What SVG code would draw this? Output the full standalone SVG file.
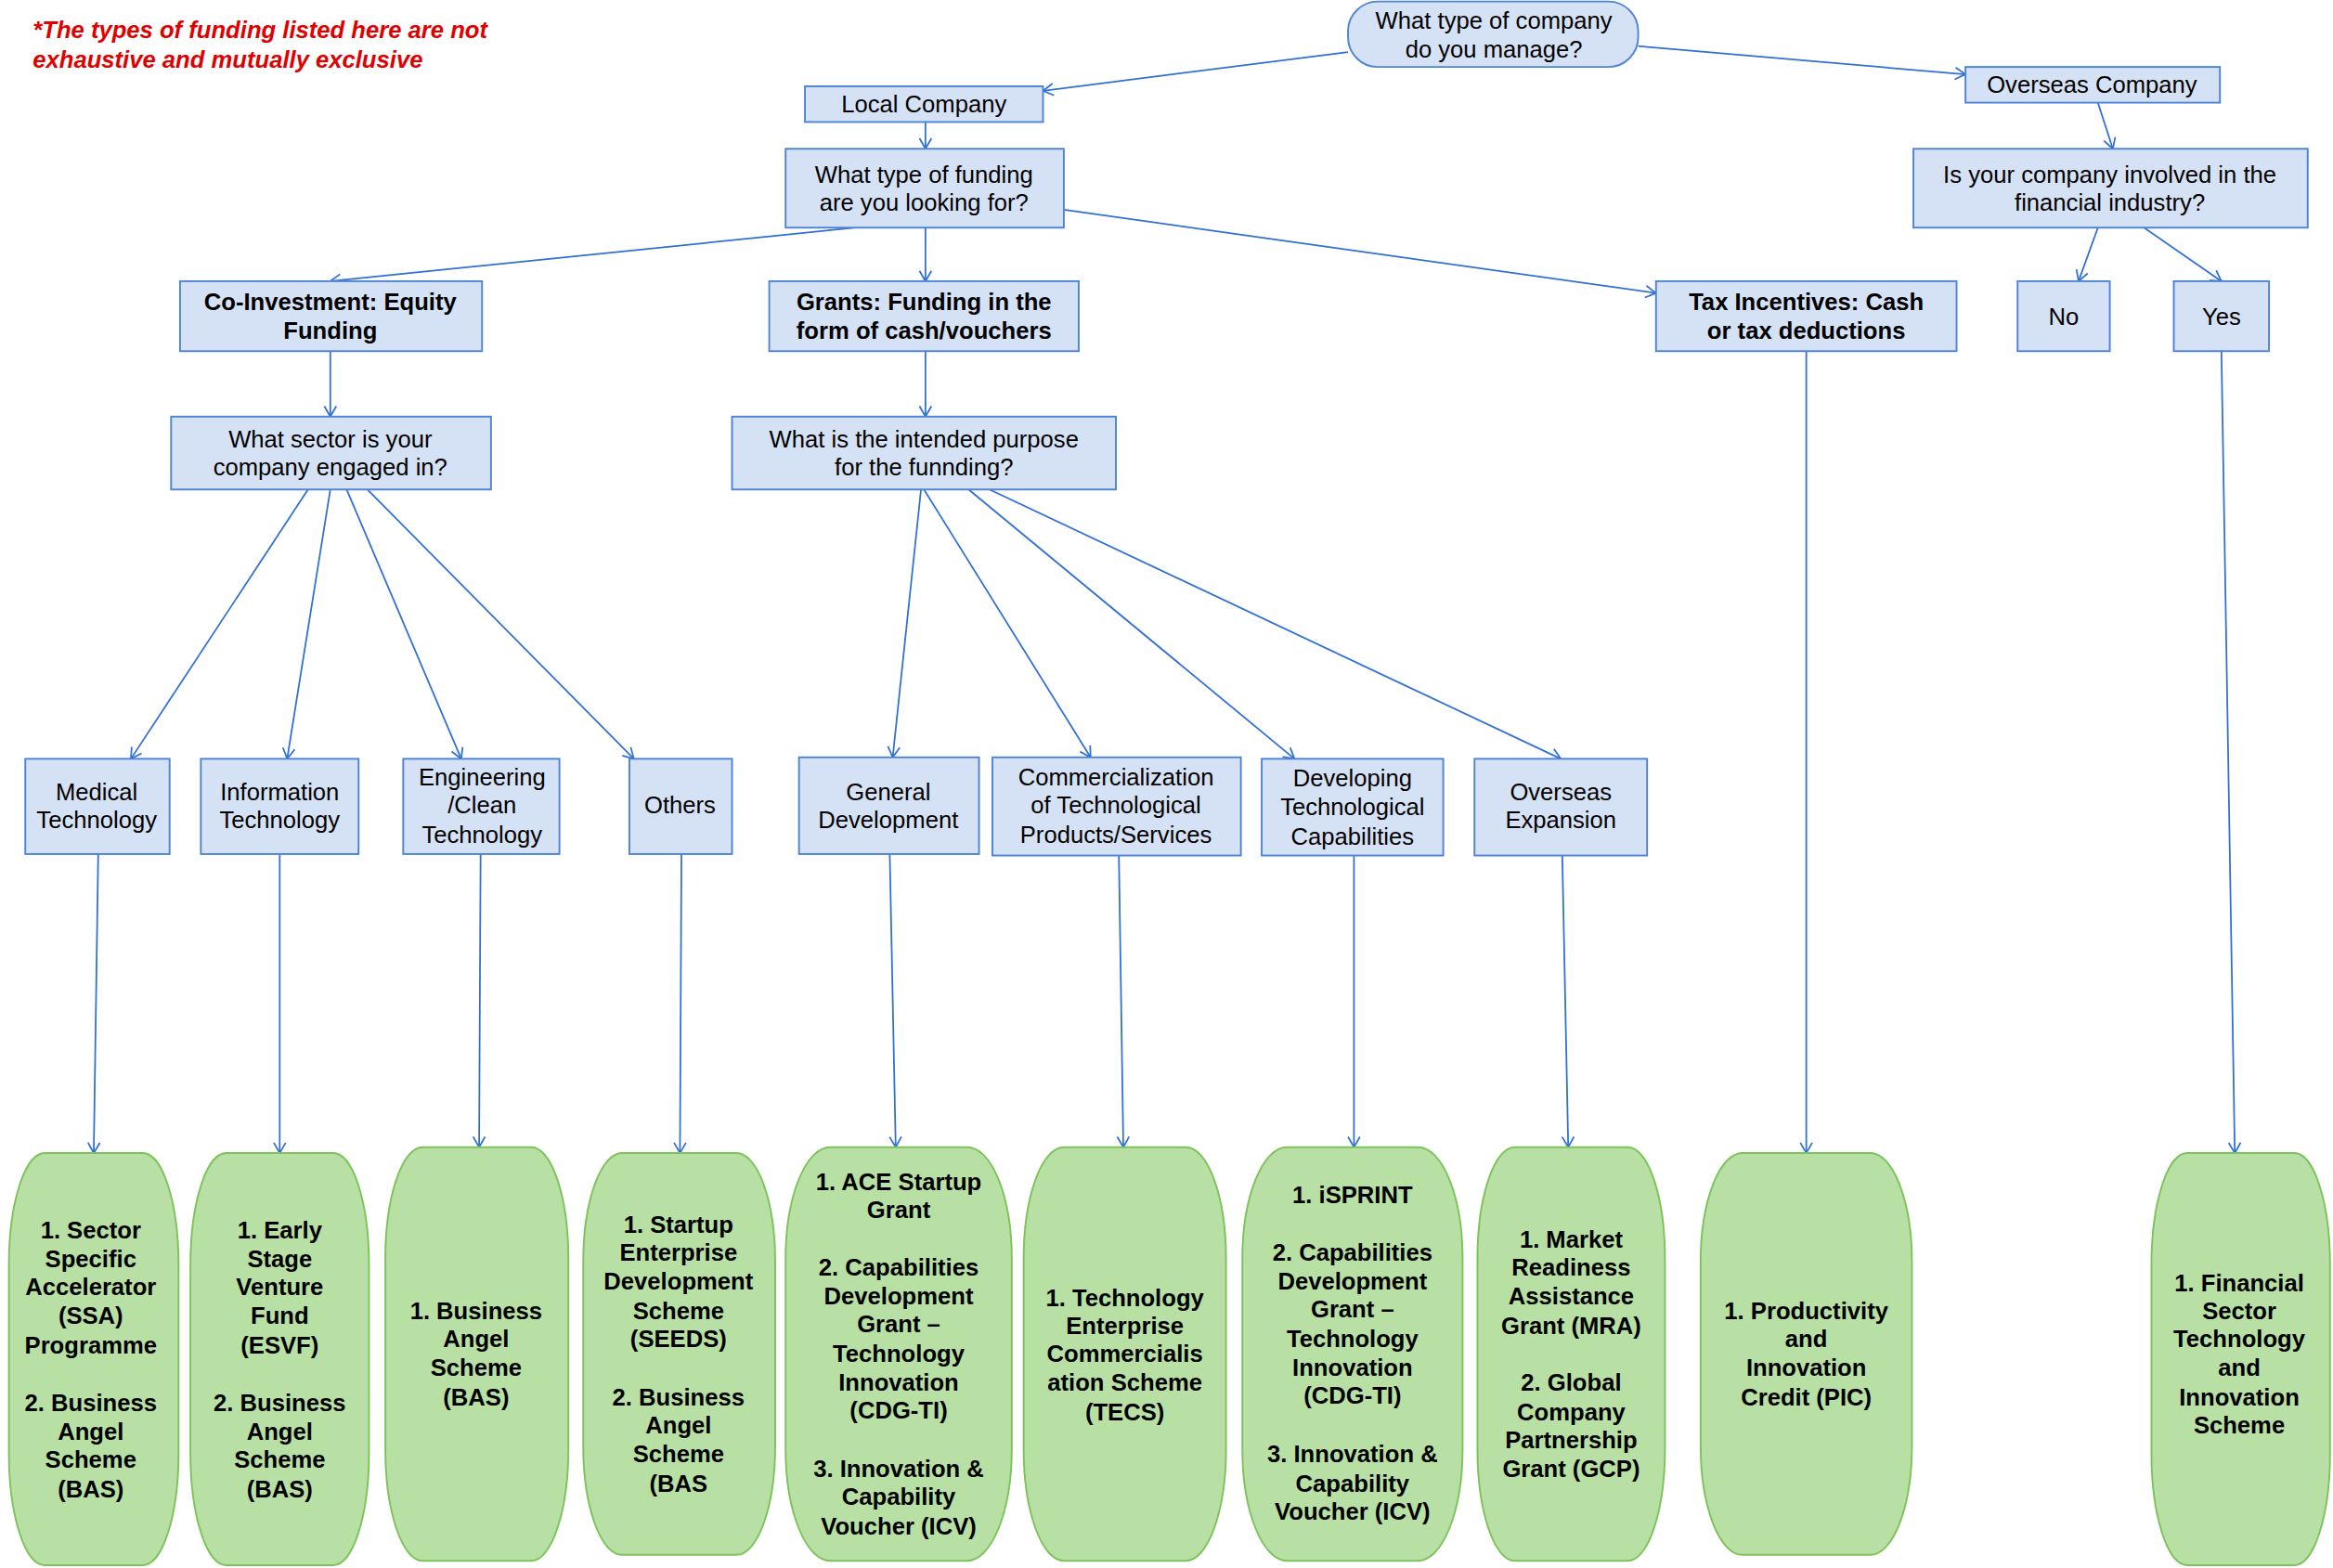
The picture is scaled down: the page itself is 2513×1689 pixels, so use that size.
<svg xmlns="http://www.w3.org/2000/svg" width="2513" height="1689" viewBox="0 0 2513 1689">
<style>
.b{fill:#d5e2f5;stroke:#4f83d6;stroke-width:1.2}
.g{fill:#b8e0a4;stroke:#7dc35b;stroke-width:1.2}
text{font-family:"Liberation Sans",Arial,sans-serif;font-size:16px;fill:#000;text-anchor:middle;dominant-baseline:central}
.bd{font-weight:bold}
.n{fill:#e00000;font-weight:bold;font-style:italic;text-anchor:start}
#conn line{stroke:#2f6fd6;stroke-width:1.1;marker-end:url(#ah)}
</style>
<defs>
<marker id="ah" markerWidth="10" markerHeight="10" refX="8" refY="5" orient="auto" markerUnits="userSpaceOnUse">
<path d="M1,1 L8,5 L1,9" fill="none" stroke="#2f6fd6" stroke-width="1.1"/>
</marker>
</defs>
<rect width="2513" height="1689" fill="#fff"/>
<g transform="scale(1.60268)">
<g id="note"><text class="n" x="22" y="20">*The  types of funding listed here are not</text><text class="n" x="22" y="40">exhaustive and mutually exclusive</text></g>

<g id="conn">
<line x1="906" y1="35" x2="701" y2="61"/>
<line x1="1101" y1="31" x2="1321" y2="50"/>
<line x1="622" y1="82" x2="622" y2="100"/>
<line x1="1410" y1="69" x2="1420" y2="100"/>
<line x1="575" y1="153" x2="222" y2="189"/>
<line x1="622" y1="153" x2="622" y2="189"/>
<line x1="715" y1="141" x2="1113" y2="197"/>
<line x1="1410" y1="153" x2="1397" y2="189"/>
<line x1="1441" y1="153" x2="1493" y2="189"/>
<line x1="222" y1="236" x2="222" y2="280"/>
<line x1="622" y1="236" x2="622" y2="280"/>
<line x1="207" y1="329" x2="88" y2="510"/>
<line x1="222" y1="329" x2="193" y2="510"/>
<line x1="233" y1="329" x2="310" y2="510"/>
<line x1="247" y1="329" x2="426" y2="510"/>
<line x1="619" y1="329" x2="600" y2="509"/>
<line x1="621" y1="329" x2="733" y2="509"/>
<line x1="651" y1="329" x2="870" y2="510"/>
<line x1="665" y1="329" x2="1049" y2="510"/>
<line x1="66" y1="574" x2="63" y2="775"/>
<line x1="188" y1="574" x2="188" y2="775"/>
<line x1="323" y1="574" x2="322" y2="771"/>
<line x1="458" y1="574" x2="457" y2="775"/>
<line x1="598" y1="574" x2="602" y2="771"/>
<line x1="752" y1="575" x2="755" y2="771"/>
<line x1="910" y1="575" x2="910" y2="771"/>
<line x1="1050" y1="575" x2="1054" y2="771"/>
<line x1="1214" y1="236" x2="1214" y2="775"/>
<line x1="1493" y1="236" x2="1502" y2="775"/>
</g>

<g id="root"><rect class="b" x="906" y="1" width="195" height="44" rx="20"/><text x="1004" y="14">What type of company</text><text x="1004" y="33">do you manage?</text></g>
<g id="local"><rect class="b" x="541" y="58" width="160" height="24"/><text x="621" y="70">Local Company</text></g>
<g id="overseas"><rect class="b" x="1321" y="45" width="171" height="24"/><text x="1406" y="57">Overseas Company</text></g>
<g id="fundtype"><rect class="b" x="528" y="100" width="187" height="53"/><text x="621" y="117">What type of funding</text><text x="621" y="136">are you looking for?</text></g>
<g id="financial"><rect class="b" x="1286" y="100" width="265" height="53"/><text x="1418" y="117">Is your company involved in the</text><text x="1418" y="136">financial industry?</text></g>
<g id="coinv"><rect class="b" x="121" y="189" width="203" height="47"/><text class="bd" x="222" y="203">Co-Investment: Equity</text><text class="bd" x="222" y="222">Funding</text></g>
<g id="grants"><rect class="b" x="517" y="189" width="208" height="47"/><text class="bd" x="621" y="203">Grants: Funding in the</text><text class="bd" x="621" y="222">form of cash/vouchers</text></g>
<g id="tax"><rect class="b" x="1113" y="189" width="202" height="47"/><text class="bd" x="1214" y="203">Tax Incentives: Cash</text><text class="bd" x="1214" y="222">or tax deductions</text></g>
<g id="no"><rect class="b" x="1356" y="189" width="62" height="47"/><text x="1387" y="213">No</text></g>
<g id="yes"><rect class="b" x="1461" y="189" width="64" height="47"/><text x="1493" y="213">Yes</text></g>
<g id="sector"><rect class="b" x="115" y="280" width="215" height="49"/><text x="222" y="295">What sector is your</text><text x="222" y="314">company engaged in?</text></g>
<g id="purpose"><rect class="b" x="492" y="280" width="258" height="49"/><text x="621" y="295">What is the intended purpose</text><text x="621" y="314">for the funnding?</text></g>

<g id="medtech"><rect class="b" x="17" y="510" width="97" height="64"/><text x="65" y="532">Medical</text><text x="65" y="551">Technology</text></g>
<g id="infotech"><rect class="b" x="135" y="510" width="106" height="64"/><text x="188" y="532">Information</text><text x="188" y="551">Technology</text></g>
<g id="engtech"><rect class="b" x="271" y="510" width="105" height="64"/><text x="324" y="522">Engineering</text><text x="324" y="541">/Clean</text><text x="324" y="561">Technology</text></g>
<g id="others"><rect class="b" x="423" y="510" width="69" height="64"/><text x="457" y="541">Others</text></g>
<g id="general"><rect class="b" x="537" y="509" width="121" height="65"/><text x="597" y="532">General</text><text x="597" y="551">Development</text></g>
<g id="commerc"><rect class="b" x="667" y="509" width="167" height="66"/><text x="750" y="522">Commercialization</text><text x="750" y="541">of Technological</text><text x="750" y="561">Products/Services</text></g>
<g id="develop"><rect class="b" x="848" y="510" width="122" height="65"/><text x="909" y="523">Developing</text><text x="909" y="542">Technological</text><text x="909" y="562">Capabilities</text></g>
<g id="overexp"><rect class="b" x="991" y="510" width="116" height="65"/><text x="1049" y="532">Overseas</text><text x="1049" y="551">Expansion</text></g>

<g id="r1"><rect class="g" x="6" y="775" width="114" height="277" rx="24" ry="75"/>
<text class="bd" x="61" y="827">1. Sector</text><text class="bd" x="61" y="846">Specific</text><text class="bd" x="61" y="865">Accelerator</text><text class="bd" x="61" y="884">(SSA)</text><text class="bd" x="61" y="904">Programme</text><text class="bd" x="61" y="943">2. Business</text><text class="bd" x="61" y="962">Angel</text><text class="bd" x="61" y="981">Scheme</text><text class="bd" x="61" y="1001">(BAS)</text></g>
<g id="r2"><rect class="g" x="128" y="775" width="120" height="277" rx="24" ry="75"/>
<text class="bd" x="188" y="827">1. Early</text><text class="bd" x="188" y="846">Stage</text><text class="bd" x="188" y="865">Venture</text><text class="bd" x="188" y="884">Fund</text><text class="bd" x="188" y="904">(ESVF)</text><text class="bd" x="188" y="943">2. Business</text><text class="bd" x="188" y="962">Angel</text><text class="bd" x="188" y="981">Scheme</text><text class="bd" x="188" y="1001">(BAS)</text></g>
<g id="r3"><rect class="g" x="259" y="771" width="123" height="278" rx="25" ry="75"/>
<text class="bd" x="320" y="881">1. Business</text><text class="bd" x="320" y="900">Angel</text><text class="bd" x="320" y="919">Scheme</text><text class="bd" x="320" y="939">(BAS)</text></g>
<g id="r4"><rect class="g" x="392" y="775" width="129" height="270" rx="26" ry="73"/>
<text class="bd" x="456" y="823">1. Startup</text><text class="bd" x="456" y="842">Enterprise</text><text class="bd" x="456" y="861">Development</text><text class="bd" x="456" y="881">Scheme</text><text class="bd" x="456" y="900">(SEEDS)</text><text class="bd" x="456" y="939">2. Business</text><text class="bd" x="456" y="958">Angel</text><text class="bd" x="456" y="977">Scheme</text><text class="bd" x="456" y="997">(BAS</text></g>
<g id="r5"><rect class="g" x="528" y="771" width="152" height="278" rx="30" ry="75"/>
<text class="bd" x="604" y="794">1. ACE Startup</text><text class="bd" x="604" y="813">Grant</text><text class="bd" x="604" y="852">2. Capabilities</text><text class="bd" x="604" y="871">Development</text><text class="bd" x="604" y="890">Grant –</text><text class="bd" x="604" y="910">Technology</text><text class="bd" x="604" y="929">Innovation</text><text class="bd" x="604" y="948">(CDG-TI)</text><text class="bd" x="604" y="987">3. Innovation &amp;</text><text class="bd" x="604" y="1006">Capability</text><text class="bd" x="604" y="1026">Voucher (ICV)</text></g>
<g id="r6"><rect class="g" x="688" y="771" width="136" height="278" rx="27" ry="75"/>
<text class="bd" x="756" y="872">1. Technology</text><text class="bd" x="756" y="891">Enterprise</text><text class="bd" x="756" y="910">Commercialis</text><text class="bd" x="756" y="929">ation Scheme</text><text class="bd" x="756" y="949">(TECS)</text></g>
<g id="r7"><rect class="g" x="835" y="771" width="148" height="278" rx="30" ry="75"/>
<text class="bd" x="909" y="803">1. iSPRINT</text><text class="bd" x="909" y="842">2. Capabilities</text><text class="bd" x="909" y="861">Development</text><text class="bd" x="909" y="880">Grant –</text><text class="bd" x="909" y="900">Technology</text><text class="bd" x="909" y="919">Innovation</text><text class="bd" x="909" y="938">(CDG-TI)</text><text class="bd" x="909" y="977">3. Innovation &amp;</text><text class="bd" x="909" y="997">Capability</text><text class="bd" x="909" y="1016">Voucher (ICV)</text></g>
<g id="r8"><rect class="g" x="993" y="771" width="126" height="278" rx="25" ry="75"/>
<text class="bd" x="1056" y="833">1. Market</text><text class="bd" x="1056" y="852">Readiness</text><text class="bd" x="1056" y="871">Assistance</text><text class="bd" x="1056" y="891">Grant (MRA)</text><text class="bd" x="1056" y="929">2. Global</text><text class="bd" x="1056" y="949">Company</text><text class="bd" x="1056" y="968">Partnership</text><text class="bd" x="1056" y="987">Grant (GCP)</text></g>
<g id="r9"><rect class="g" x="1143" y="775" width="142" height="270" rx="28" ry="73"/>
<text class="bd" x="1214" y="881">1. Productivity</text><text class="bd" x="1214" y="900">and</text><text class="bd" x="1214" y="919">Innovation</text><text class="bd" x="1214" y="939">Credit (PIC)</text></g>
<g id="r10"><rect class="g" x="1446" y="775" width="120" height="277" rx="24" ry="75"/>
<text class="bd" x="1505" y="862">1. Financial</text><text class="bd" x="1505" y="881">Sector</text><text class="bd" x="1505" y="900">Technology</text><text class="bd" x="1505" y="919">and</text><text class="bd" x="1505" y="939">Innovation</text><text class="bd" x="1505" y="958">Scheme</text></g>
</g>
</svg>
